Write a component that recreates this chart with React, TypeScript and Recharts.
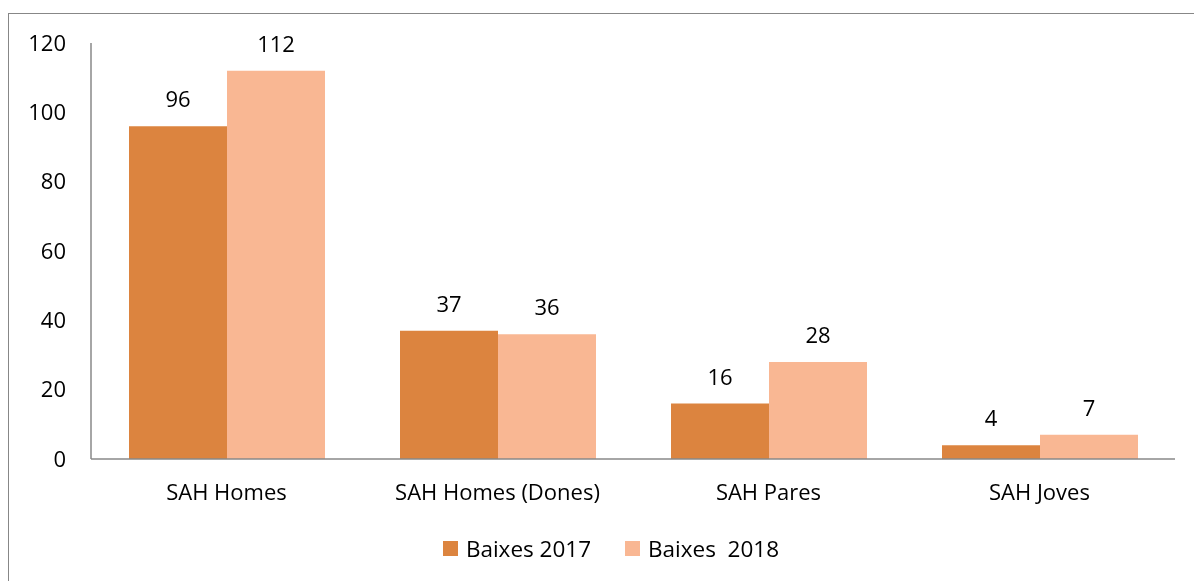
import { Bar, BarChart, LabelList, Legend, XAxis, YAxis } from "recharts";

const categories = ["SAH Homes", "SAH Homes (Dones)", "SAH Pares", "SAH Joves"];
const baixes2017 = [96, 37, 16, 4];
const baixes2018 = [112, 36, 28, 7];
const yTicks = [0, 20, 40, 60, 80, 100, 120];

const SERIES = [
  { key: "b2017", name: "Baixes 2017", color: "#DC843F" },
  { key: "b2018", name: "Baixes  2018", color: "#F9B793" },
];

const FONT = "'Open Sans', sans-serif";
const FS = 22;

const data = categories.map((name, i) => ({
  name,
  b2017: baixes2017[i],
  b2018: baixes2018[i],
}));

function LegendBox() {
  return (
    <div
      style={{
        display: "flex",
        justifyContent: "center",
        gap: 34,
        fontFamily: FONT,
        fontSize: 22.5,
        color: "#000",
        paddingLeft: 28,
      }}
    >
      {SERIES.map((s) => (
        <div key={s.key} style={{ display: "flex", alignItems: "center" }}>
          <span style={{ width: 15, height: 15, background: s.color, marginRight: 8 }} />
          <span style={{ whiteSpace: "pre" }}>{s.name}</span>
        </div>
      ))}
    </div>
  );
}

export default function App() {
  return (
    <>
      <div
        style={{
          position: "fixed",
          left: 8,
          top: 13,
          right: 0,
          bottom: 0,
          borderLeft: "1px solid #878787",
          borderTop: "1px solid #878787",
        }}
      />
      <div style={{ position: "fixed", left: 0, top: 0 }}>
        <BarChart
          width={1194}
          height={581}
          data={data}
          margin={{ top: 43, right: 19, left: 0, bottom: 0 }}
          barCategoryGap={38}
          barGap={0}
        >
          <XAxis
            dataKey="name"
            height={122}
            tickLine={false}
            tickSize={0}
            tickMargin={25}
            axisLine={{ stroke: "#898989", strokeWidth: 1.5 }}
            tick={{ fill: "#000", fontSize: FS, fontFamily: FONT }}
            interval={0}
          />
          <YAxis
            width={91}
            domain={[0, 120]}
            ticks={yTicks}
            tickLine={false}
            tickSize={0}
            tickMargin={25}
            axisLine={{ stroke: "#898989", strokeWidth: 1.5 }}
            tick={{ fill: "#000", fontSize: FS, fontFamily: FONT }}
          />
          <Legend
            verticalAlign="middle"
            align="center"
            layout="horizontal"
            wrapperStyle={{ top: 533, left: 0, width: 1194 }}
            content={() => <LegendBox />}
          />
          {SERIES.map((s) => (
            <Bar key={s.key} dataKey={s.key} name={s.name} fill={s.color} isAnimationActive={false}>
              <LabelList
                dataKey={s.key}
                position="top"
                offset={19}
                style={{ fill: "#000", fontSize: FS, fontFamily: FONT }}
              />
            </Bar>
          ))}
        </BarChart>
      </div>
    </>
  );
}
